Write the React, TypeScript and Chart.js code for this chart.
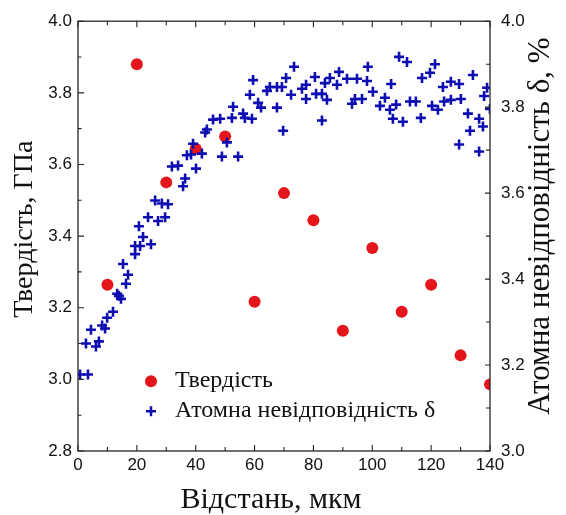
import React, { useEffect, useRef } from 'react';
import { Chart, registerables } from 'chart.js';

Chart.register(...registerables);

// ---------- data ----------
const hardnessX = [10, 20, 30, 40, 50, 60, 70, 80, 90, 100, 110, 120, 130, 140];
const hardnessY = [3.264, 3.88, 3.55, 3.644, 3.678, 3.217, 3.52, 3.444, 3.136, 3.367, 3.189, 3.264, 3.067, 2.986];

const misfitX = [
  0.7, 3.4, 2.7, 4.4, 6.1, 7.1, 8.2, 9.2, 9.9, 11.9,
  13.3, 13.9, 14.6, 16.3, 17.0, 15.3, 19.4, 19.4, 21.1, 22.1,
  24.8, 20.7, 23.8, 27.2, 29.6, 26.2, 28.5, 30.6, 31.9, 34.0,
  35.7, 36.4, 37.0, 38.4, 39.1, 40.1, 42.1, 43.2, 43.8, 45.9,
  48.3, 48.9, 50.6, 52.3, 52.7, 54.4, 56.1, 56.7, 59.1, 58.4,
  59.5, 61.2, 62.2, 64.2, 65.2, 67.6, 67.6, 69.3, 69.7, 70.7,
  72.4, 73.4, 76.1, 77.5, 77.5, 80.5, 80.9, 82.9, 82.9, 83.9,
  84.6, 85.6, 88.0, 88.7, 91.4, 93.1, 94.1, 94.8, 96.5, 98.2,
  98.5, 100.2, 102.6, 104.3, 106.0, 106.4, 107.0, 108.1, 109.1, 110.4,
  111.8, 112.8, 114.8, 116.5, 116.9, 119.6, 121.3, 120.3, 122.3, 124.0,
  124.4, 126.7, 126.7, 129.5, 130.1, 129.5, 132.5, 133.2, 134.2, 136.3,
  136.3, 137.6, 138.0, 139.0, 140.0,
];
const misfitY = [
  3.178, 3.178, 3.25, 3.282, 3.243, 3.255, 3.292, 3.285, 3.31, 3.324,
  3.366, 3.361, 3.354, 3.389, 3.41, 3.435, 3.458, 3.477, 3.477, 3.498,
  3.481, 3.523, 3.544, 3.535, 3.544, 3.583, 3.576, 3.574, 3.662, 3.664,
  3.616, 3.634, 3.688, 3.69, 3.715, 3.657, 3.692, 3.741, 3.748, 3.771,
  3.773, 3.685, 3.718, 3.775, 3.801, 3.685, 3.785, 3.775, 3.773, 3.829,
  3.863, 3.81, 3.799, 3.838, 3.847, 3.847, 3.799, 3.847, 3.745, 3.868,
  3.829, 3.894, 3.843, 3.852, 3.819, 3.87, 3.831, 3.831, 3.769, 3.856,
  3.817, 3.868, 3.852, 3.882, 3.866, 3.808, 3.819, 3.866, 3.819, 3.861,
  3.894, 3.836, 3.803, 3.822, 3.794, 3.854, 3.773, 3.806, 3.917, 3.766,
  3.905, 3.813, 3.813, 3.775, 3.868, 3.88, 3.9, 3.803, 3.794, 3.847,
  3.813, 3.859, 3.817, 3.854, 3.819, 3.713, 3.785, 3.745, 3.875, 3.773,
  3.697, 3.755, 3.826, 3.845, 3.796,
];

const xTickValues = [0, 20, 40, 60, 80, 100, 120, 140];
const leftTickValues = [2.8, 3.0, 3.2, 3.4, 3.6, 3.8, 4.0];
const rightTickValues = [3.0, 3.2, 3.4, 3.6, 3.8, 4.0];

const seriesLabels = ['Твердість', 'Атомна невідповідність δ'];
const xTitle = 'Відстань, мкм';
const yLeftTitle = 'Твердість, ГПа';
const yRightTitle = 'Атомна невідповідність δ, %';

// ---------- styles ----------
const RED = '#e4161c';
const BLUE = '#0d0db2';
const SERIF = '"Liberation Serif", "Times New Roman", serif';
const SANS = '"Liberation Sans", Arial, sans-serif';
const AXIS = '#262626';
const TEXT = '#111';

const framePlugin = {
  id: 'frameTicks',
  afterDatasetsDraw(chart: any) {
    const { ctx, chartArea: a, scales } = chart;
    ctx.save();
    ctx.strokeStyle = AXIS;
    ctx.lineWidth = 1.3;
    ctx.strokeRect(a.left, a.top, a.right - a.left, a.bottom - a.top);
    ctx.lineWidth = 1.1;
    ctx.beginPath();
    const sx = scales.x;
    for (let i = 0; i <= Math.round((sx.max - sx.min) / 10); i++) {
      const v = sx.min + i * 10;
      const px = sx.getPixelForValue(v);
      const L = i % 2 === 0 ? 6 : 4;
      ctx.moveTo(px, a.bottom); ctx.lineTo(px, a.bottom - L);
      ctx.moveTo(px, a.top); ctx.lineTo(px, a.top + L);
    }
    const sy = scales.y;
    for (let i = 0; i <= Math.round((sy.max - sy.min) / 0.1); i++) {
      const py = sy.getPixelForValue(sy.min + i * 0.1);
      const L = i % 2 === 0 ? 6 : 3.5;
      ctx.moveTo(a.left, py); ctx.lineTo(a.left + L, py);
    }
    const sr = scales.y1;
    for (let i = 0; i <= Math.round((sr.max - sr.min) / 0.1); i++) {
      const py = sr.getPixelForValue(sr.min + i * 0.1);
      const L = i % 2 === 0 ? 5 : 4;
      ctx.moveTo(a.right, py); ctx.lineTo(a.right - L, py);
    }
    ctx.stroke();
    ctx.restore();
  },
  afterDraw(chart: any) {
    const { ctx, chartArea: a } = chart;
    const midY = (a.top + a.bottom) / 2;
    const midX = (a.left + a.right) / 2;
    ctx.save();
    // legend inside plot area
    const mx = a.left + 73;
    const tx = a.left + 97;
    const y1 = a.top + 360;
    const y2 = a.top + 390;
    ctx.fillStyle = RED;
    ctx.beginPath();
    ctx.arc(mx, y1, 6, 0, Math.PI * 2);
    ctx.fill();
    ctx.strokeStyle = BLUE;
    ctx.lineWidth = 2.5;
    ctx.beginPath();
    ctx.moveTo(mx - 5, y2); ctx.lineTo(mx + 5, y2);
    ctx.moveTo(mx, y2 - 5); ctx.lineTo(mx, y2 + 5);
    ctx.stroke();
    ctx.fillStyle = TEXT;
    ctx.font = `24px ${SERIF}`;
    ctx.textBaseline = 'middle';
    ctx.textAlign = 'left';
    ctx.fillText(seriesLabels[0], tx, y1);
    ctx.fillText(seriesLabels[1], tx, y2);

    // axis titles
    ctx.textAlign = 'center';
    ctx.textBaseline = 'alphabetic';
    // bottom
    ctx.font = `30px ${SERIF}`;
    ctx.fillText(xTitle, midX - 13, a.bottom + 57);
    // left (reads bottom-to-top)
    ctx.save();
    ctx.translate(a.left - 46, midY - 7);
    ctx.rotate(-Math.PI / 2);
    ctx.font = `28px ${SERIF}`;
    ctx.fillText(yLeftTitle, 0, 0);
    ctx.restore();
    // right (also reads bottom-to-top)
    ctx.save();
    ctx.translate(a.right + 59, midY - 10);
    ctx.rotate(-Math.PI / 2);
    ctx.font = `31px ${SERIF}`;
    ctx.fillText(yRightTitle, 0, 0);
    ctx.restore();

    ctx.restore();
  },
};

export default function App() {
  const ref = useRef<HTMLCanvasElement | null>(null);

  useEffect(() => {
    if (!ref.current) return;
    const tickFont = { family: SANS, size: 17 };
    const chart = new Chart(ref.current, {
      type: 'scatter',
      data: {
        datasets: [
          {
            label: seriesLabels[0],
            data: hardnessX.map((x, i) => ({ x, y: hardnessY[i] })),
            yAxisID: 'y',
            pointStyle: 'circle',
            pointRadius: 6,
            pointBackgroundColor: RED,
            pointBorderWidth: 0,
            order: 2,
          },
          {
            label: seriesLabels[1],
            data: misfitX.map((x, i) => ({ x, y: misfitY[i] })),
            yAxisID: 'y1',
            pointStyle: 'cross',
            pointRadius: 5,
            pointBorderColor: BLUE,
            pointBorderWidth: 2.6,
            order: 1,
          },
        ],
      },
      options: {
        animation: false,
        responsive: false,
        layout: { padding: { top: 19, left: 0, right: 0, bottom: 0 } },
        plugins: {
          legend: { display: false },
          tooltip: { enabled: false },
        },
        scales: {
          x: {
            type: 'linear',
            min: 0,
            max: 140,
            afterBuildTicks: (s: any) => { s.ticks = xTickValues.map((v) => ({ value: v })); },
            afterFit: (s: any) => { s.height = 64; },
            grid: { display: false, drawTicks: false },
            border: { display: false },
            ticks: {
              color: TEXT,
              font: tickFont,
              padding: 4,
              maxRotation: 0,
              callback: (v: any) => String(v),
            },
          },
          y: {
            type: 'linear',
            position: 'left',
            min: 2.8,
            max: 4.0,
            afterBuildTicks: (s: any) => { s.ticks = leftTickValues.map((v) => ({ value: v })); },
            afterFit: (s: any) => { s.width = 78; },
            grid: { display: false, drawTicks: false },
            border: { display: false },
            ticks: {
              color: TEXT,
              font: tickFont,
              padding: 6,
              callback: (v: any) => Number(v).toFixed(1),
            },
          },
          y1: {
            type: 'linear',
            position: 'right',
            min: 3.0,
            max: 4.0,
            afterBuildTicks: (s: any) => { s.ticks = rightTickValues.map((v) => ({ value: v })); },
            afterFit: (s: any) => { s.width = 76; },
            grid: { display: false, drawTicks: false },
            border: { display: false },
            ticks: {
              color: TEXT,
              font: tickFont,
              padding: 11,
              callback: (v: any) => Number(v).toFixed(1),
            },
          },
        },
      },
      plugins: [framePlugin],
    });
    return () => chart.destroy();
  }, []);

  return (
    <div style={{ position: 'fixed', left: 0, top: 0, width: 566, height: 515, background: '#fff' }}>
      <canvas ref={ref} width={566} height={515} style={{ display: 'block' }} />
    </div>
  );
}
